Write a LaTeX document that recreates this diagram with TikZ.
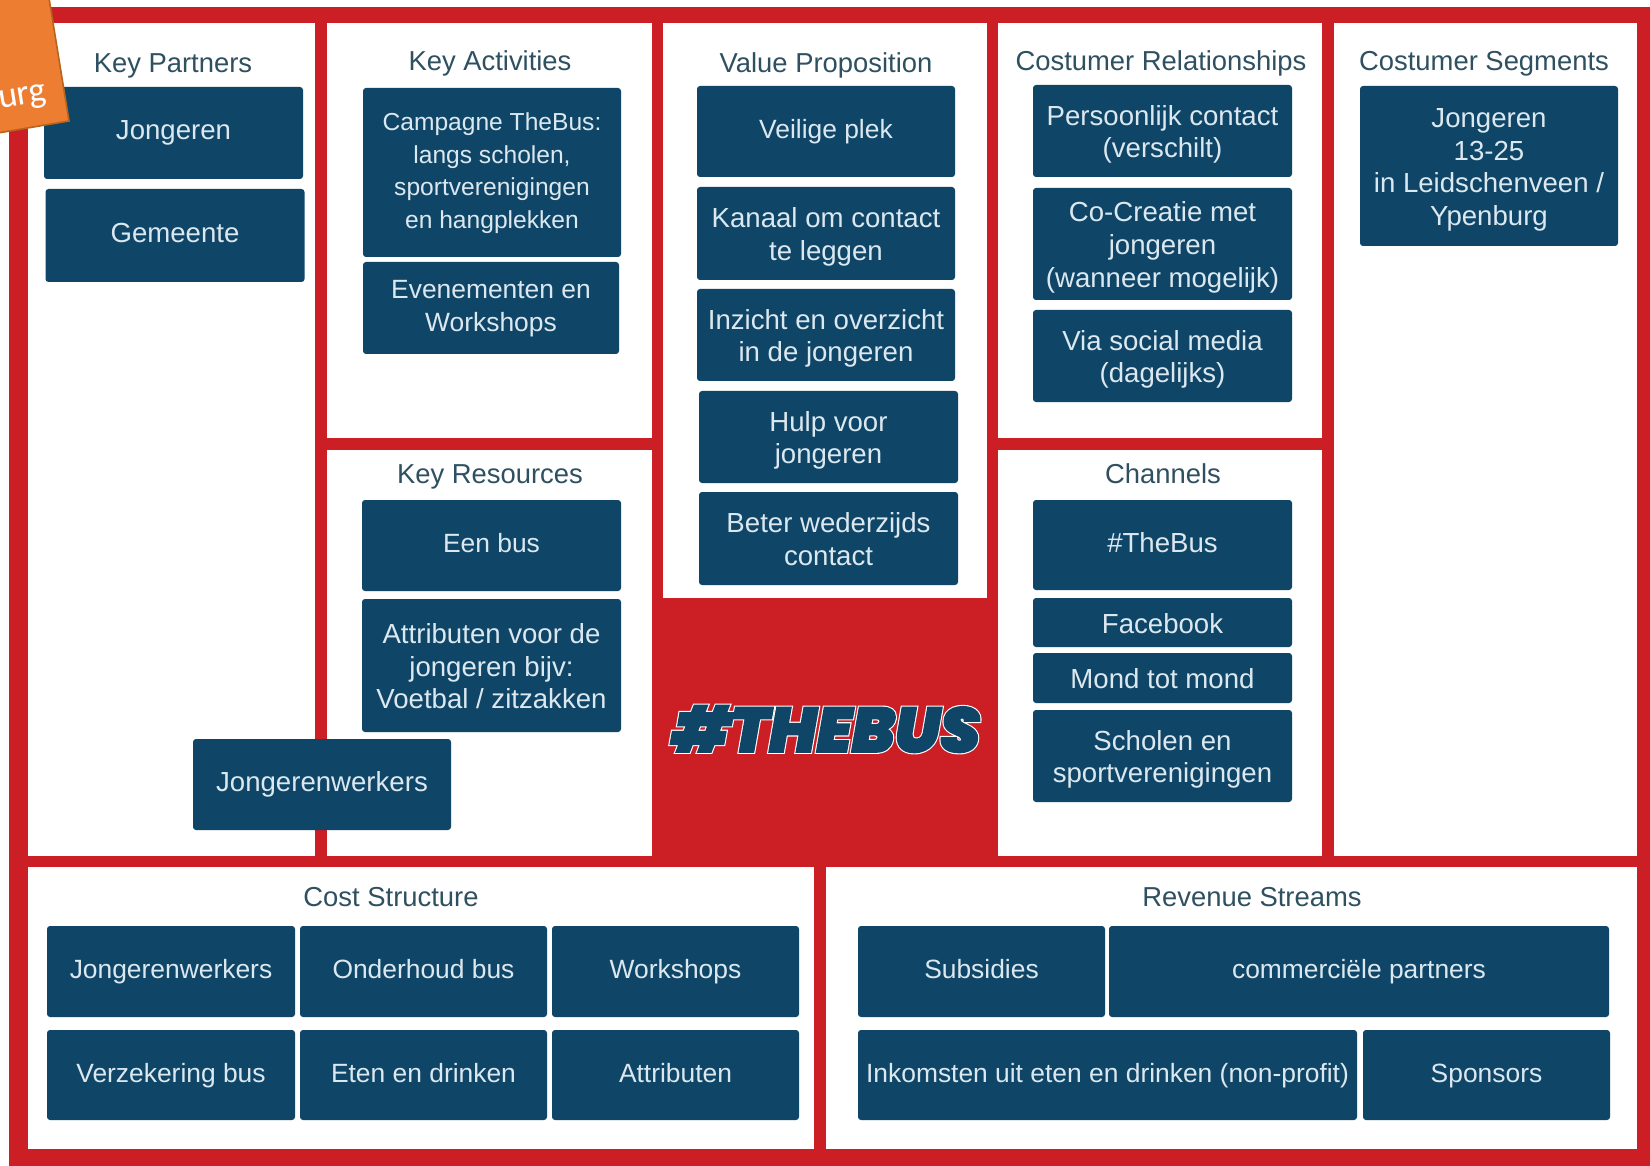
\documentclass[tikz,border=0pt]{standalone}
\usepackage{fontspec}
\setmainfont{Liberation Sans}
\newfontfamily\tagfont{Carlito}
\newfontfamily\busfont[FakeBold=2.5]{Poppins Black Italic}
\newfontfamily\busglow[FakeBold=6]{Poppins Black Italic}
\usetikzlibrary{positioning}
\definecolor{canvasred}{HTML}{CC1F25}
\definecolor{cardblue}{HTML}{0F4667}
\definecolor{cardtext}{HTML}{DCE8F0}
\definecolor{headtext}{HTML}{2F5060}
\definecolor{tagorange}{HTML}{ED7D31}
\definecolor{tagedge}{HTML}{B5651D}
\newcommand\ct[1]{\rule{0pt}{12pt}#1\rule[-5pt]{0pt}{5pt}}
\newcommand\cl[1]{\rule{0pt}{15.5pt}#1\rule[-5pt]{0pt}{5pt}}
\tikzset
{
    panel/.style 2 args = {rectangle, fill=white, inner sep=0pt, minimum width=#1*0.5pt, minimum height=#2*0.5pt},
    card/.style 2 args  = {rectangle, fill=cardblue, text=cardtext, rounded corners=1.5pt, align=center, inner sep=0pt,
                           font=\fontsize{13.8}{16.4}\selectfont, minimum width=#1*0.5pt, minimum height=#2*0.5pt},
    tight/.style        = {font=\fontsize{13.2}{16.4}\selectfont},
    heading/.style      = {text=headtext, font=\fontsize{13.7}{16.4}\selectfont, inner sep=0pt, text height=10pt, text depth=3pt},
    logotext/.style     = {inner sep=0pt}
}

\begin{document}
\begin{tikzpicture}[x=0.5pt, y=-0.5pt]
   \useasboundingbox (0, 0) rectangle (1650, 1166);

   % canvas and panels
   \node (frame) [panel={1641}{1159}, fill=canvasred]  at (829.5, 586.5) {};
   \node (kp)    [panel={287}{833}]                    at (171.5, 439.5) {};
   \node (ka)    [panel={325}{415}]                    at (489.5, 230.5) {};
   \node (kr)    [panel={325}{406}]                    at (489.5, 653)   {};
   \node (vp)    [panel={324}{575}]                    at (825, 310.5)   {};
   \node (cr)    [panel={324}{415}]                    at (1160, 230.5)  {};
   \node (ch)    [panel={324}{406}]                    at (1160, 653)    {};
   \node (cs)    [panel={303}{833}]                    at (1485.5, 439.5) {};
   \node (cost)  [panel={786}{282}]                    at (421, 1008)    {};
   \node (rev)   [panel={811}{282}]                    at (1231.5, 1008) {};

   % headings
   \node (kph)   [heading] at (173, 66)   {Key Partners};
   \node (kah)   [heading] at (490, 64)   {Key Activities};
   \node (krh)   [heading] at (490, 476)  {Key Resources};
   \node (vph)   [heading] at (826, 66)   {Value Proposition};
   \node (crh)   [heading] at (1161, 64)  {Costumer Relationships};
   \node (chh)   [heading] at (1163, 476) {Channels};
   \node (csh)   [heading] at (1484, 64)  {Costumer Segments};
   \node (costh) [heading] at (391, 899)  {Cost Structure};
   \node (revh)  [heading] at (1252, 899) {Revenue Streams};

   % key partners
   \node (kp1)   [card={259}{92}]  at (173.5, 133)  {\ct{Jongeren}};
   \node (kp2)   [card={259}{93}]  at (175, 235.5)  {\ct{Gemeente}};

   % key activities and resources
   \node (ka1)   [card={258}{169}, font=\fontsize{12.3}{16.4}\selectfont] at (492, 172.5) {\ct{Campagne TheBus:\\langs scholen,\\sportverenigingen\\en hangplekken}};
   \node (ka2)   [card={256}{92}, tight]  at (491, 308)    {\ct{Evenementen en\\Workshops}};
   \node (kr1)   [card={259}{91}, tight]  at (491.5, 545.5) {\ct{Een bus}};
   \node (kr2)   [card={259}{133}] at (491.5, 665.5) {\cl{Attributen voor de\\jongeren bijv:\\Voetbal / zitzakken}};
   \node (kp3)   [card={258}{91}]  at (322, 784.5)  {\ct{Jongerenwerkers}};

   % value proposition
   \node (vp1)   [card={258}{91}, tight]  at (826, 131.5)  {\ct{Veilige plek}};
   \node (vp2)   [card={258}{93}]  at (826, 233.5)  {\cl{Kanaal om contact\\te leggen}};
   \node (vp3)   [card={258}{92}]  at (826, 335)    {\cl{Inzicht en overzicht\\in de jongeren}};
   \node (vp4)   [card={259}{92}]  at (828.5, 437)  {\cl{Hulp voor\\jongeren}};
   \node (vp5)   [card={259}{93}]  at (828.5, 538.5) {\cl{Beter wederzijds\\contact}};

   % logo
   \node (glow)  [logotext, text=white, font=\busglow\fontsize{31.5}{31.5}\selectfont] at (826, 729) {\#THEBUS};
   \node (logo)  [logotext, text=cardblue, font=\busfont\fontsize{31.5}{31.5}\selectfont] at (826, 729) {\#THEBUS};

   % relationships and channels
   \node (cr1)   [card={259}{92}]  at (1162.5, 131) {\cl{Persoonlijk contact\\(verschilt)}};
   \node (cr2)   [card={259}{112}] at (1162.5, 244) {\cl{Co-Creatie met\\jongeren\\(wanneer mogelijk)}};
   \node (cr3)   [card={259}{92}]  at (1162.5, 356) {\cl{Via social media\\(dagelijks)}};
   \node (ch1)   [card={259}{90}]  at (1162.5, 545) {\ct{\#TheBus}};
   \node (ch2)   [card={259}{49}]  at (1162.5, 622.5) {\cl{Facebook}};
   \node (ch3)   [card={259}{50}]  at (1162.5, 678) {\cl{Mond tot mond}};
   \node (ch4)   [card={259}{92}]  at (1162.5, 756) {\cl{Scholen en\\sportverenigingen}};

   % segments
   \node (cs1)   [card={258}{160}] at (1489, 166)   {\cl{Jongeren\\13-25\\in Leidschenveen /\\Ypenburg}};

   % cost structure
   \node (co1)   [card={248}{91}, tight]  at (171, 971.5)  {\ct{Jongerenwerkers}};
   \node (co2)   [card={247}{91}, tight]  at (423.5, 971.5) {\ct{Onderhoud bus}};
   \node (co3)   [card={247}{91}, tight]  at (675.5, 971.5) {\ct{Workshops}};
   \node (co4)   [card={248}{90}, tight]  at (171, 1075)   {\ct{Verzekering bus}};
   \node (co5)   [card={247}{90}, tight]  at (423.5, 1075) {\ct{Eten en drinken}};
   \node (co6)   [card={247}{90}, tight]  at (675.5, 1075) {\ct{Attributen}};

   % revenue streams
   \node (re1)   [card={247}{91}, tight]  at (981.5, 971.5) {\ct{Subsidies}};
   \node (re2)   [card={500}{91}, tight]  at (1359, 971.5) {\ct{commerciële partners}};
   \node (re3)   [card={499}{90}, tight]  at (1107.5, 1075) {\ct{Inkomsten uit eten en drinken (non-profit)}};
   \node (re4)   [card={247}{90}, tight]  at (1486.5, 1075) {\ct{Sponsors}};

   % orange tag in the corner
   \fill [tagorange, draw=tagedge, line width=0.8pt] (49, -2) -- (69, 121) -- (-2, 133) -- (-2, -2) -- cycle;
   \node (tag)   [text=white, font=\tagfont\fontsize{18}{18}\selectfont, inner sep=0pt, rotate=9, anchor=east] at (47, 95) {urg};
\end{tikzpicture}
\end{document}
